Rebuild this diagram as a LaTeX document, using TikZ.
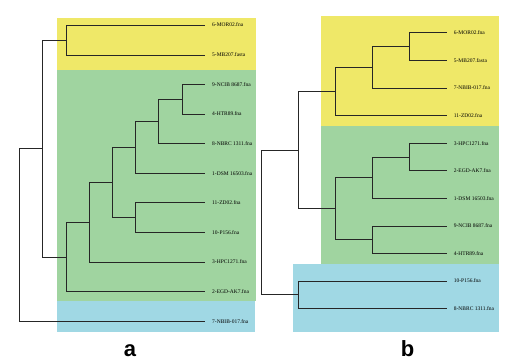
\documentclass[tikz,border=0pt]{standalone}
\usepackage{fontspec}
\setmainfont{Liberation Serif}
\newfontfamily\panelfont{Liberation Sans}
\definecolor{cladeyellow}{RGB}{239,232,104}
\definecolor{cladegreen}{RGB}{160,212,160}
\definecolor{cladeblue}{RGB}{160,216,228}
\begin{document}
\begin{tikzpicture}[x=1pt, y=-1pt,
        leaf/.style={anchor=west, inner xsep=7pt, inner ysep=1pt, font=\fontsize{5.5}{6}\selectfont},
        branch/.style={line width=0.9pt, black!85},
        panel/.style={anchor=base, font=\panelfont\bfseries\fontsize{22}{24}\selectfont}]
    \useasboundingbox (0,0) rectangle (523,362);

    % tree a
    \fill [cladeyellow] (57,18) rectangle (256,70);
    \fill [cladegreen] (57,70) rectangle (256,301);
    \fill [cladeblue] (57,301) rectangle (255,332);

    \node [leaf] (amor) at (205,25) {6-MOR02.fna};
    \node [leaf] (amb) at (205,55) {5-MB207.fasta};
    \node [leaf] (ancib) at (205,84.7) {9-NCIB 8687.fna};
    \node [leaf] (ahtr) at (205,114) {4-HTR89.fna};
    \node [leaf] (anbrc) at (205,143.7) {8-NBRC 1311.fna};
    \node [leaf] (adsm) at (205,173.3) {1-DSM 16503.fna};
    \node [leaf] (azd) at (205,202.7) {11-ZD02.fna};
    \node [leaf] (ap) at (205,232.3) {10-P156.fna};
    \node [leaf] (ahpc) at (205,262) {3-HPC1271.fna};
    \node [leaf] (aegd) at (205,291.7) {2-EGD-AK7.fna};
    \node [leaf] (anbib) at (205,321.3) {7-NBIB-017.fna};

    \coordinate (a1) at (66,40);
    \coordinate (a2) at (182,99.3);
    \coordinate (a3) at (158.7,121.7);
    \coordinate (a4) at (135.3,147.3);
    \coordinate (a5) at (135.3,217.5);
    \coordinate (a6) at (112.3,182.4);
    \coordinate (a7) at (89,222.2);
    \coordinate (a8) at (66,257);
    \coordinate (a9) at (42.7,148.5);
    \coordinate (a0) at (19.7,234.9);

    \draw [branch] (a1) |- (amor) (a1) |- (amb);
    \draw [branch] (a2) |- (ancib) (a2) |- (ahtr);
    \draw [branch] (a3) |- (a2) (a3) |- (anbrc);
    \draw [branch] (a4) |- (a3) (a4) |- (adsm);
    \draw [branch] (a5) |- (azd) (a5) |- (ap);
    \draw [branch] (a6) |- (a4) (a6) |- (a5);
    \draw [branch] (a7) |- (a6) (a7) |- (ahpc);
    \draw [branch] (a8) |- (a7) (a8) |- (aegd);
    \draw [branch] (a9) |- (a1) (a9) |- (a8);
    \draw [branch] (a0) |- (a9) (a0) |- (anbib); % root

    % tree b
    \fill [cladeyellow] (320.7,16) rectangle (499,125.7);
    \fill [cladegreen] (320.7,125.7) rectangle (499,264);
    \fill [cladeblue] (293,264) rectangle (499,332.3);

    \node [leaf] (bmor) at (446.7,32.7) {6-MOR02.fna};
    \node [leaf] (bmb) at (446.7,60.3) {5-MB207.fasta};
    \node [leaf] (bnbib) at (446.7,88) {7-NBIB-017.fna};
    \node [leaf] (bzd) at (446.7,115.3) {11-ZD02.fna};
    \node [leaf] (bhpc) at (446.7,143.3) {3-HPC1271.fna};
    \node [leaf] (begd) at (446.7,170.7) {2-EGD-AK7.fna};
    \node [leaf] (bdsm) at (446.7,198.3) {1-DSM 16503.fna};
    \node [leaf] (bncib) at (446.7,226) {9-NCIB 8687.fna};
    \node [leaf] (bhtr) at (446.7,253.3) {4-HTR89.fna};
    \node [leaf] (bp) at (446.7,281) {10-P156.fna};
    \node [leaf] (bnbrc) at (446.7,308.3) {8-NBRC 1311.fna};

    \coordinate (b1) at (409.3,46.5);
    \coordinate (b2) at (372.7,67.2);
    \coordinate (b3) at (335.7,91.3);
    \coordinate (b4) at (409.3,157);
    \coordinate (b5) at (372.7,177.7);
    \coordinate (b6) at (372.7,239.7);
    \coordinate (b7) at (335.7,208.7);
    \coordinate (b8) at (298.3,150);
    \coordinate (b9) at (298.3,294.7);
    \coordinate (b0) at (261.3,222.3);

    \draw [branch] (b1) |- (bmor) (b1) |- (bmb);
    \draw [branch] (b2) |- (b1) (b2) |- (bnbib);
    \draw [branch] (b3) |- (b2) (b3) |- (bzd);
    \draw [branch] (b4) |- (bhpc) (b4) |- (begd);
    \draw [branch] (b5) |- (b4) (b5) |- (bdsm);
    \draw [branch] (b6) |- (bncib) (b6) |- (bhtr);
    \draw [branch] (b7) |- (b5) (b7) |- (b6);
    \draw [branch] (b8) |- (b3) (b8) |- (b7);
    \draw [branch] (b9) |- (bp) (b9) |- (bnbrc);
    \draw [branch] (b0) |- (b8) (b0) |- (b9); % root

    \node [panel] (pa) at (130,356.7) {a};
    \node [panel] (pb) at (407.5,356.7) {b};
\end{tikzpicture}
\end{document}
